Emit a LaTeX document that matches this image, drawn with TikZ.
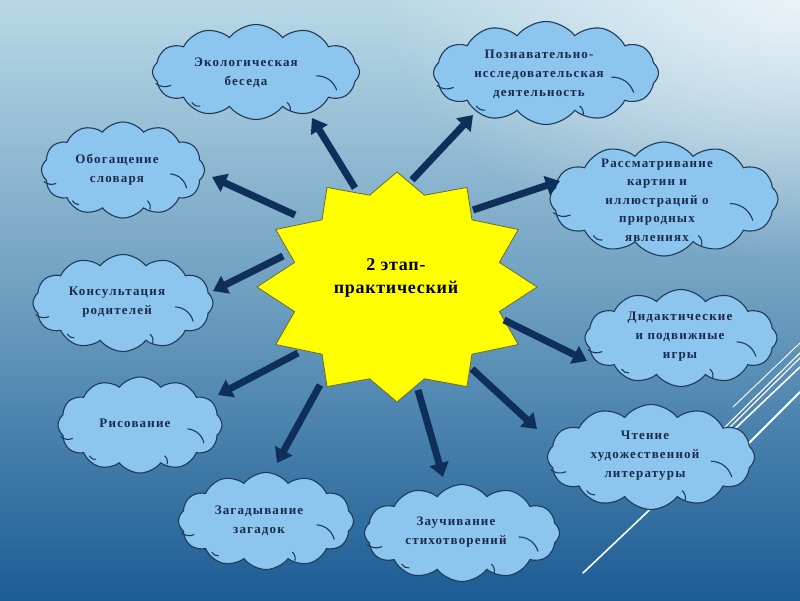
\documentclass[tikz,border=0pt]{standalone}
\usepackage{fontspec}
\setmainfont{Liberation Serif}
\newfontfamily\cloudfont[LetterSpace=9]{Liberation Serif}
\newfontfamily\titlefont[LetterSpace=4]{Liberation Serif}
\usetikzlibrary{shapes.symbols,arrows.meta,fadings}
\tikzfading[name=softglow, inner color=transparent!0, outer color=transparent!100]
\definecolor{bgtop}{HTML}{B8D8E6}
\definecolor{bgmid}{HTML}{6C9EC0}
\definecolor{bgbot}{HTML}{1C5C94}
\definecolor{cloudfill}{HTML}{8CC5EE}
\definecolor{cloudline}{HTML}{1F3A5A}
\definecolor{arrowc}{HTML}{0E2F5A}
\definecolor{txtc}{HTML}{1B2A4E}
\definecolor{starline}{HTML}{6B6B30}
\definecolor{staryellow}{HTML}{FFFF00}
\tikzset{
  cloudbox/.style={cloud, cloud puffs=12, cloud puff arc=105, cloud ignores aspect,
    draw=cloudline, line width=1.1pt, fill=cloudfill, inner sep=0pt},
  innerarc/.style={draw=cloudline, line width=1.1pt},
  cloudtext/.style={align=center, text=txtc, inner sep=0pt,
    font=\cloudfont\bfseries\fontsize{13}{19}\selectfont},
  arr/.style={draw=arrowc, line width=7pt, -{Triangle[width=19pt,length=14pt]}},
  deco/.style={draw=white, line cap=round},
}
\begin{document}
\begin{tikzpicture}[x=1pt,y=-1pt]
\useasboundingbox (0,0) rectangle (800,600);
% background
\shade[top color=bgtop, bottom color=bgbot, middle color=bgmid] (0,0) rectangle (800,600);
\begin{scope}
\clip (0,0) rectangle (800,600);
\fill[white, opacity=0.7, path fading=softglow] (800,0) ellipse [x radius=420pt, y radius=260pt];
\end{scope}
% decorative white lines
\draw[deco, line width=0.9pt] (733,407) -- (800,343);
\draw[deco, line width=1.1pt] (715,437) -- (800,353);
\draw[deco, line width=1.1pt] (718,439) -- (800,358);
\draw[deco, line width=1.6pt] (583,573) -- (800,367);
\draw[deco, line width=1.8pt] (730,462) -- (800,392);
% star
\fill[staryellow, draw=starline, line width=0.8pt] (397,172)
  \foreach \i in {1,...,23} {
    -- ({397+ifthenelse(mod(\i,2)==0,140,106)*cos(90+15*\i)},
        {287-ifthenelse(mod(\i,2)==0,115,95)*sin(90+15*\i)})
  } -- cycle;
\node[align=center, inner sep=0pt, font=\titlefont\bfseries\fontsize{18}{23}\selectfont] (center) at (396,278) {2 этап-\\практический};
% clouds with their inner arcs
\foreach \n/\cx/\cy/\w/\h in {c1/256/72/207/95, c2/546/73/225/103, c3/123/170/163/96,
    c4/664/199/228/114, c5/123/303/180/97, c6/681/338/192/97, c7/140/425/164/96,
    c8/651/457/207/105, c9/266/521/175/97, c10/462/533/195/97} {
  \node[cloudbox, minimum width=\w pt, minimum height=\h pt] (\n) at (\cx,\cy) {};
  \pgfmathsetmacro\hw{\w/2}
  \pgfmathsetmacro\hh{\h/2}
  \begin{scope}[shift={(\cx,\cy)}, x=\hw pt, y=-\hh pt]
    \draw[innerarc] (0.58,0.08) to[bend left=35] (0.78,0.38);
    \draw[innerarc] (0.30,0.64) to[bend left=30] (0.33,0.82);
    \draw[innerarc] (-0.97,0.24) to[bend right=30] (-0.82,0.28);
    \draw[innerarc] (-0.62,0.64) to[bend right=30] (-0.54,0.72);
  \end{scope}
}
\node[cloudtext] (t1) at (246,73) {Экологическая\\беседа};
\node[cloudtext] (t2) at (539,74) {Познавательно-\\исследовательская\\деятельность};
\node[cloudtext] (t3) at (117,170) {Обогащение\\словаря};
\node[cloudtext, font=\cloudfont\bfseries\fontsize{13}{18.5}\selectfont] (t4) at (657,200) {Рассматривание\\картин и\\иллюстраций о\\природных\\явлениях};
\node[cloudtext] (t5) at (117,302) {Консультация\\родителей};
\node[cloudtext] (t6) at (680,337) {Дидактические\\и подвижные\\игры};
\node[cloudtext] (t7) at (135,423) {Рисование};
\node[cloudtext] (t8) at (645,456) {Чтение\\художественной\\литературы};
\node[cloudtext] (t9) at (259,521) {Загадывание\\загадок};
\node[cloudtext] (t10) at (456,532) {Заучивание\\стихотворений};
% arrow end points
\coordinate (s1) at (355,188); \coordinate (e1) at (312,118);
\coordinate (s2) at (412,180); \coordinate (e2) at (473,115);
\coordinate (s3) at (473,210); \coordinate (e3) at (560,181);
\coordinate (s4) at (295,215); \coordinate (e4) at (212,177);
\coordinate (s5) at (283,256); \coordinate (e5) at (213,291);
\coordinate (s6) at (298,353); \coordinate (e6) at (218,395);
\coordinate (s7) at (320,385); \coordinate (e7) at (277,463);
\coordinate (s8) at (418,390); \coordinate (e8) at (443,477);
\coordinate (s9) at (472,369); \coordinate (e9) at (537,429);
\coordinate (s10) at (504,320); \coordinate (e10) at (587,361);
\foreach \k in {1,...,10} { \draw[arr] (s\k) -- (e\k); }
\end{tikzpicture}
\end{document}
